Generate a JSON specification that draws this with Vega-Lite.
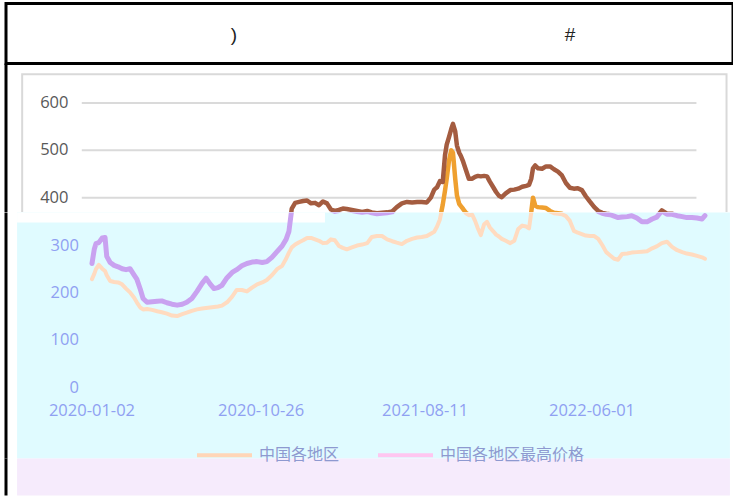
{
"$schema": "https://vega.github.io/schema/vega-lite/v6.json",
"background": "white",
"padding": {"left": 4, "top": 1.5, "right": 0, "bottom": 0},
"spacing": 0,
"bounds": "flush",
"config": {"view": {"stroke": null}, "font": "Open Sans"},
"resolve": {"scale": {"x": "independent", "y": "independent", "color": "independent"}, "legend": {"color": "independent"}},
"datasets": {"prices": [
{"日期":"2020-01-02","中国各地区":229,"中国各地区最高价格":262},
{"日期":"2020-01-06","中国各地区":240,"中国各地区最高价格":292},
{"日期":"2020-01-09","中国各地区":250,"中国各地区最高价格":304},
{"日期":"2020-01-14","中国各地区":259,"中国各地区最高价格":306},
{"日期":"2020-01-20","中国各地区":251,"中国各地区最高价格":316},
{"日期":"2020-01-25","中国各地区":246,"中国各地区最高价格":317},
{"日期":"2020-01-28","中国各地区":237,"中国各地区最高价格":277},
{"日期":"2020-02-03","中国各地区":225,"中国各地区最高价格":264},
{"日期":"2020-02-10","中国各地区":223,"中国各地区最高价格":258},
{"日期":"2020-02-17","中国各地区":222,"中国各地区最高价格":255},
{"日期":"2020-02-24","中国各地区":218,"中国各地区最高价格":251},
{"日期":"2020-03-02","中国各地区":209,"中国各地区最高价格":249},
{"日期":"2020-03-09","中国各地区":201,"中国各地区最高价格":251},
{"日期":"2020-03-16","中国各地区":190,"中国各地区最高价格":238},
{"日期":"2020-03-21","中国各地区":180,"中国各地区最高价格":229},
{"日期":"2020-03-27","中国各地区":169,"中国各地区最高价格":208},
{"日期":"2020-04-01","中国各地区":165,"中国各地区最高价格":188},
{"日期":"2020-04-08","中国各地区":166,"中国各地区最高价格":180},
{"日期":"2020-04-17","中国各地区":164,"中国各地区最高价格":181},
{"日期":"2020-04-26","中国各地区":161,"中国各地区最高价格":182},
{"日期":"2020-05-04","中国各地区":159,"中国各地区最高价格":183},
{"日期":"2020-05-13","中国各地区":156,"中国各地区最高价格":179},
{"日期":"2020-05-22","中国各地区":152,"中国各地区最高价格":176},
{"日期":"2020-05-31","中国各地区":151,"中国各地区最高价格":174},
{"日期":"2020-06-09","中国各地区":155,"中国各地区最高价格":176},
{"日期":"2020-06-17","中国各地区":158,"中国各地区最高价格":180},
{"日期":"2020-06-26","中国各地区":162,"中国各地区最高价格":188},
{"日期":"2020-07-05","中国各地区":165,"中国各地区最高价格":203},
{"日期":"2020-07-14","中国各地区":167,"中国各地区最高价格":220},
{"日期":"2020-07-21","中国各地区":168,"中国各地区最高价格":231},
{"日期":"2020-07-28","中国各地区":169,"中国各地区最高价格":219},
{"日期":"2020-08-04","中国各地区":170,"中国各地区最高价格":209},
{"日期":"2020-08-11","中国各地区":171,"中国各地区最高价格":211},
{"日期":"2020-08-18","中国各地区":173,"中国各地区最高价格":216},
{"日期":"2020-08-27","中国各地区":180,"中国各地区最高价格":232},
{"日期":"2020-09-05","中国各地区":192,"中国各地区最高价格":243},
{"日期":"2020-09-13","中国各地区":206,"中国各地区最高价格":249},
{"日期":"2020-09-22","中国各地区":206,"中国各地区最高价格":257},
{"日期":"2020-10-01","中国各地区":203,"中国各地区最高价格":262},
{"日期":"2020-10-10","中国各地区":211,"中国各地区最高价格":265},
{"日期":"2020-10-19","中国各地区":218,"中国各地区最高价格":266},
{"日期":"2020-10-28","中国各地区":222,"中国各地区最高价格":264},
{"日期":"2020-11-05","中国各地区":227,"中国各地区最高价格":266},
{"日期":"2020-11-14","中国各地区":237,"中国各地区最高价格":275},
{"日期":"2020-11-23","中国各地区":250,"中国各地区最高价格":287},
{"日期":"2020-12-02","中国各地区":257,"中国各地区最高价格":299},
{"日期":"2020-12-09","中国各地区":272,"中国各地区最高价格":313},
{"日期":"2020-12-14","中国各地区":285,"中国各地区最高价格":330},
{"日期":"2020-12-19","中国各地区":296,"中国各地区最高价格":377},
{"日期":"2020-12-25","中国各地区":302,"中国各地区最高价格":389},
{"日期":"2021-01-01","中国各地区":307,"中国各地区最高价格":391},
{"日期":"2021-01-08","中国各地区":311,"中国各地区最高价格":393},
{"日期":"2021-01-15","中国各地区":316,"中国各地区最高价格":394},
{"日期":"2021-01-22","中国各地区":316,"中国各地区最高价格":388},
{"日期":"2021-01-29","中国各地区":313,"中国各地区最高价格":389},
{"日期":"2021-02-05","中国各地区":310,"中国各地区最高价格":384},
{"日期":"2021-02-12","中国各地区":305,"中国各地区最高价格":392},
{"日期":"2021-02-19","中国各地区":306,"中国各地区最高价格":388},
{"日期":"2021-02-26","中国各地区":313,"中国各地区最高价格":375},
{"日期":"2021-03-05","中国各地区":311,"中国各地区最高价格":372},
{"日期":"2021-03-12","中国各地区":299,"中国各地区最高价格":374},
{"日期":"2021-03-19","中国各地区":295,"中国各地区最高价格":377},
{"日期":"2021-03-26","中国各地区":292,"中国各地区最高价格":376},
{"日期":"2021-04-04","中国各地区":296,"中国各地区最高价格":374},
{"日期":"2021-04-13","中国各地区":300,"中国各地区最高价格":372},
{"日期":"2021-04-22","中国各地区":302,"中国各地区最高价格":370},
{"日期":"2021-05-01","中国各地区":305,"中国各地区最高价格":372},
{"日期":"2021-05-09","中国各地区":318,"中国各地区最高价格":369},
{"日期":"2021-05-18","中国各地区":320,"中国各地区最高价格":367},
{"日期":"2021-05-27","中国各地区":320,"中国各地区最高价格":368},
{"日期":"2021-06-05","中国各地区":313,"中国各地区最高价格":369},
{"日期":"2021-06-14","中国各地区":309,"中国各地区最高价格":371},
{"日期":"2021-06-22","中国各地区":306,"中国各地区最高价格":380},
{"日期":"2021-07-01","中国各地区":303,"中国各地区最高价格":388},
{"日期":"2021-07-10","中国各地区":310,"中国各地区最高价格":391},
{"日期":"2021-07-19","中国各地区":314,"中国各地区最高价格":390},
{"日期":"2021-07-28","中国各地区":317,"中国各地区最高价格":391},
{"日期":"2021-08-05","中国各地区":318,"中国各地区最高价格":391},
{"日期":"2021-08-14","中国各地区":320,"中国各地区最高价格":390},
{"日期":"2021-08-21","中国各地区":325,"中国各地区最高价格":400},
{"日期":"2021-08-27","中国各地区":329,"中国各地区最高价格":417},
{"日期":"2021-09-01","中国各地区":340,"中国各地区最高价格":422},
{"日期":"2021-09-06","中国各地区":355,"中国各地区最高价格":435},
{"日期":"2021-09-11","中国各地区":385,"中国各地区最高价格":433},
{"日期":"2021-09-15","中国各地区":415,"中国各地区最高价格":490},
{"日期":"2021-09-18","中国各地区":440,"中国各地区最高价格":512},
{"日期":"2021-09-22","中国各地区":478,"中国各地区最高价格":528},
{"日期":"2021-09-26","中国各地区":500,"中国各地区最高价格":545},
{"日期":"2021-09-29","中国各地区":495,"中国各地区最高价格":556},
{"日期":"2021-10-03","中国各地区":440,"中国各地区最高价格":540},
{"日期":"2021-10-06","中国各地区":405,"中国各地区最高价格":510},
{"日期":"2021-10-10","中国各地区":387,"中国各地区最高价格":495},
{"日期":"2021-10-13","中国各地区":382,"中国各地区最高价格":488},
{"日期":"2021-10-17","中国各地区":376,"中国各地区最高价格":476},
{"日期":"2021-10-22","中国各地区":368,"中国各地区最高价格":458},
{"日期":"2021-10-27","中国各地区":364,"中国各地区最高价格":440},
{"日期":"2021-11-02","中国各地区":365,"中国各地区最高价格":440},
{"日期":"2021-11-07","中国各地区":352,"中国各地区最高价格":444},
{"日期":"2021-11-12","中国各地区":336,"中国各地区最高价格":446},
{"日期":"2021-11-17","中国各地区":322,"中国各地区最高价格":445},
{"日期":"2021-11-23","中国各地区":345,"中国各地区最高价格":446},
{"日期":"2021-11-28","中国各地区":350,"中国各地区最高价格":445},
{"日期":"2021-12-03","中国各地区":338,"中国各地区最高价格":434},
{"日期":"2021-12-09","中国各地区":330,"中国各地区最高价格":422},
{"日期":"2021-12-14","中国各地区":323,"中国各地区最高价格":412},
{"日期":"2021-12-19","中国各地区":319,"中国各地区最高价格":404},
{"日期":"2021-12-24","中国各地区":314,"中国各地区最高价格":401},
{"日期":"2021-12-31","中国各地区":310,"中国各地区最高价格":409},
{"日期":"2022-01-08","中国各地区":305,"中国各地区最高价格":416},
{"日期":"2022-01-15","中国各地区":310,"中国各地区最高价格":417},
{"日期":"2022-01-22","中国各地区":335,"中国各地区最高价格":419},
{"日期":"2022-01-29","中国各地区":342,"中国各地区最高价格":423},
{"日期":"2022-02-05","中国各地区":340,"中国各地区最高价格":425},
{"日期":"2022-02-10","中国各地区":336,"中国各地区最高价格":427},
{"日期":"2022-02-14","中国各地区":370,"中国各地区最高价格":440},
{"日期":"2022-02-17","中国各地区":400,"中国各地区最高价格":462},
{"日期":"2022-02-21","中国各地区":383,"中国各地区最高价格":468},
{"日期":"2022-02-26","中国各地区":380,"中国各地区最高价格":462},
{"日期":"2022-03-05","中国各地区":379,"中国各地区最高价格":461},
{"日期":"2022-03-12","中国各地区":378,"中国各地区最高价格":466},
{"日期":"2022-03-19","中国各地区":372,"中国各地区最高价格":466},
{"日期":"2022-03-26","中国各地区":368,"中国各地区最高价格":460},
{"日期":"2022-04-02","中国各地区":367,"中国各地区最高价格":455},
{"日期":"2022-04-09","中国各地区":366,"中国各地区最高价格":447},
{"日期":"2022-04-16","中国各地区":362,"中国各地区最高价格":431},
{"日期":"2022-04-23","中国各地区":352,"中国各地区最高价格":421},
{"日期":"2022-04-30","中国各地区":331,"中国各地区最高价格":419},
{"日期":"2022-05-07","中国各地区":327,"中国各地区最高价格":420},
{"日期":"2022-05-14","中国各地区":324,"中国各地区最高价格":416},
{"日期":"2022-05-21","中国各地区":321,"中国各地区最高价格":403},
{"日期":"2022-05-28","中国各地区":320,"中国各地区最高价格":392},
{"日期":"2022-06-05","中国各地区":320,"中国各地区最高价格":380},
{"日期":"2022-06-12","中国各地区":314,"中国各地区最高价格":372},
{"日期":"2022-06-19","中国各地区":301,"中国各地区最高价格":368},
{"日期":"2022-06-26","中国各地区":286,"中国各地区最高价格":366},
{"日期":"2022-07-03","中国各地区":279,"中国各地区最高价格":365},
{"日期":"2022-07-10","中国各地区":272,"中国各地区最高价格":362},
{"日期":"2022-07-17","中国各地区":270,"中国各地区最高价格":359},
{"日期":"2022-07-24","中国各地区":282,"中国各地区最高价格":360},
{"日期":"2022-08-02","中国各地区":283,"中国各地区最高价格":361},
{"日期":"2022-08-10","中国各地区":285,"中国各地区最高价格":363},
{"日期":"2022-08-19","中国各地区":286,"中国各地区最高价格":358},
{"日期":"2022-08-28","中国各地区":287,"中国各地区最高价格":350},
{"日期":"2022-09-06","中国各地区":288,"中国各地区最高价格":350},
{"日期":"2022-09-15","中国各地区":294,"中国各地区最高价格":356},
{"日期":"2022-09-23","中国各地区":298,"中国各地区最高价格":360},
{"日期":"2022-10-02","中国各地区":305,"中国各地区最高价格":373},
{"日期":"2022-10-11","中国各地区":308,"中国各地区最高价格":366},
{"日期":"2022-10-20","中国各地区":297,"中国各地区最高价格":366},
{"日期":"2022-10-29","中国各地区":290,"中国各地区最高价格":363},
{"日期":"2022-11-07","中国各地区":286,"中国各地区最高价格":361},
{"日期":"2022-11-15","中国各地区":283,"中国各地区最高价格":359},
{"日期":"2022-11-24","中国各地区":281,"中国各地区最高价格":359},
{"日期":"2022-12-03","中国各地区":278,"中国各地区最高价格":358},
{"日期":"2022-12-12","中国各地区":275,"中国各地区最高价格":356},
{"日期":"2022-12-17","中国各地区":272,"中国各地区最高价格":363}
]},
"vconcat": [
{
 "width": 727, "height": 60,
 "view": {"stroke": "black", "strokeWidth": 3},
 "data": {"values": [{"列": "a", "标题": ")"}, {"列": "b", "标题": "#"}]},
 "mark": {"type": "text", "fontSize": 19, "font": "Liberation Sans", "color": "#222222", "dy": 1},
 "encoding": {
  "x": {"field": "列", "type": "nominal", "sort": null, "scale": {"type": "point", "padding": 0.5818, "align": 0.5831}, "axis": null},
  "text": {"field": "标题"}
 }
},
{
 "width": 727, "height": 148.5,
 "layer": [
  {
   "data": {"values": [{"刻度": 400}, {"刻度": 500}, {"刻度": 600}]},
   "mark": {"type": "rule", "color": "#dadada", "strokeWidth": 2},
   "encoding": {
    "y": {"field": "刻度", "type": "quantitative", "scale": {"domain": [369.72, 683.45], "nice": false, "zero": false}, "axis": null},
    "x": {"datum": {"year": 2019, "month": 12, "date": 15, "utc": true}, "type": "temporal", "scale": {"type": "utc", "domain": [{"year": 2019, "month": 8, "date": 3, "hours": 12, "utc": true}, {"year": 2023, "month": 2, "date": 4, "hours": 10, "utc": true}]}, "axis": null},
    "x2": {"datum": {"year": 2022, "month": 12, "date": 2, "utc": true}}
   }
  },
  {
   "data": {"values": [{"刻度": 400}, {"刻度": 500}, {"刻度": 600}]},
   "mark": {"type": "text", "align": "right", "baseline": "middle", "font": "Open Sans", "fontSize": 16.5, "color": "#595959"},
   "encoding": {
    "y": {"field": "刻度", "type": "quantitative", "scale": {"domain": [369.72, 683.45], "nice": false, "zero": false}, "axis": null},
    "x": {"datum": {"year": 2019, "month": 11, "date": 21, "hours": 14, "utc": true}, "type": "temporal", "scale": {"type": "utc", "domain": [{"year": 2019, "month": 8, "date": 3, "hours": 12, "utc": true}, {"year": 2023, "month": 2, "date": 4, "hours": 10, "utc": true}]}, "axis": null},
    "text": {"field": "刻度", "type": "quantitative"}
   }
  },
  {
   "data": {"values": [{}]},
   "mark": {"type": "rect", "filled": false, "stroke": "#d9d9d9", "strokeWidth": 2, "clip": true},
   "encoding": {
    "x": {"datum": {"year": 2019, "month": 9, "date": 1, "utc": true}, "type": "temporal", "scale": {"type": "utc", "domain": [{"year": 2019, "month": 8, "date": 3, "hours": 12, "utc": true}, {"year": 2023, "month": 2, "date": 4, "hours": 10, "utc": true}]}, "axis": null},
    "x2": {"datum": {"year": 2023, "month": 1, "date": 24, "utc": true}},
    "y": {"datum": 660.6, "type": "quantitative", "scale": {"domain": [369.72, 683.45], "nice": false, "zero": false}, "axis": null},
    "y2": {"datum": 300}
   }
  },
  {
   "data": {"name": "prices"},
   "transform": [{"fold": ["中国各地区", "中国各地区最高价格"], "as": ["series", "value"]}],
   "mark": {"type": "line", "clip": true, "strokeWidth": 4.5, "strokeJoin": "round", "strokeCap": "round"},
   "encoding": {
    "x": {"field": "日期", "type": "temporal", "scale": {"type": "utc", "domain": [{"year": 2019, "month": 8, "date": 3, "hours": 12, "utc": true}, {"year": 2023, "month": 2, "date": 4, "hours": 10, "utc": true}]}, "axis": null},
    "y": {"field": "value", "type": "quantitative", "scale": {"domain": [369.72, 683.45], "nice": false, "zero": false}, "axis": null},
    "color": {"field": "series", "type": "nominal", "scale": {"domain": ["中国各地区", "中国各地区最高价格"], "range": ["#efa030", "#a45c40"]}, "legend": null}
   }
  },
  {
   "data": {"values": [{}]},
   "mark": {"type": "rule", "color": "black", "strokeWidth": 3},
   "encoding": {
    "x": {"datum": {"year": 2019, "month": 8, "date": 3, "hours": 12, "utc": true}, "type": "temporal", "scale": {"type": "utc", "domain": [{"year": 2019, "month": 8, "date": 3, "hours": 12, "utc": true}, {"year": 2023, "month": 2, "date": 4, "hours": 10, "utc": true}]}, "axis": null}
   }
  }
 ]
},
{
 "width": 727, "height": 246,
 "layer": [
  {
   "data": {"values": [{}]},
   "mark": {"type": "rect", "color": "#e0fbff"},
   "encoding": {
    "x": {"datum": {"year": 2019, "month": 8, "date": 23, "utc": true}, "type": "temporal", "scale": {"type": "utc", "domain": [{"year": 2019, "month": 8, "date": 3, "hours": 12, "utc": true}, {"year": 2023, "month": 2, "date": 4, "hours": 10, "utc": true}]}, "axis": null},
    "x2": {"datum": {"year": 2023, "month": 1, "date": 30, "utc": true}}
   }
  },
  {
   "data": {"values": [{}]},
   "mark": {"type": "rect", "color": "white"},
   "encoding": {
    "x": {"datum": {"year": 2019, "month": 8, "date": 23, "utc": true}, "type": "temporal", "scale": {"type": "utc", "domain": [{"year": 2019, "month": 8, "date": 3, "hours": 12, "utc": true}, {"year": 2023, "month": 2, "date": 4, "hours": 10, "utc": true}]}, "axis": null},
    "x2": {"datum": {"year": 2021, "month": 2, "date": 15, "hours": 12, "utc": true}},
    "y": {"datum": 369.72, "type": "quantitative", "scale": {"domain": [-150, 369.72], "nice": false, "zero": false}, "axis": null},
    "y2": {"datum": 348.6}
   }
  },
  {
   "data": {"name": "prices"},
   "transform": [{"fold": ["中国各地区", "中国各地区最高价格"], "as": ["series", "value"]}],
   "mark": {"type": "line", "clip": true, "strokeJoin": "round", "strokeCap": "round"},
   "encoding": {
    "x": {"field": "日期", "type": "temporal", "scale": {"type": "utc", "domain": [{"year": 2019, "month": 8, "date": 3, "hours": 12, "utc": true}, {"year": 2023, "month": 2, "date": 4, "hours": 10, "utc": true}]}, "axis": null},
    "y": {"field": "value", "type": "quantitative", "scale": {"domain": [-150, 369.72], "nice": false, "zero": false}, "axis": null},
    "color": {"field": "series", "type": "nominal", "scale": {"domain": ["中国各地区", "中国各地区最高价格"], "range": ["#ffdbc0", "#c9a2f0"]}, "legend": null},
    "strokeWidth": {"field": "series", "type": "nominal", "scale": {"domain": ["中国各地区", "中国各地区最高价格"], "range": [4, 5]}, "legend": null}
   }
  },
  {
   "data": {"values": [{"刻度": 0}, {"刻度": 100}, {"刻度": 200}, {"刻度": 300}]},
   "mark": {"type": "text", "align": "right", "baseline": "middle", "font": "Open Sans", "fontSize": 16.5, "color": "#8fa0f2"},
   "encoding": {
    "y": {"field": "刻度", "type": "quantitative", "scale": {"domain": [-150, 369.72], "nice": false, "zero": false}, "axis": null},
    "x": {"datum": {"year": 2019, "month": 12, "date": 10, "utc": true}, "type": "temporal", "scale": {"type": "utc", "domain": [{"year": 2019, "month": 8, "date": 3, "hours": 12, "utc": true}, {"year": 2023, "month": 2, "date": 4, "hours": 10, "utc": true}]}, "axis": null},
    "text": {"field": "刻度", "type": "quantitative"}
   }
  },
  {
   "data": {"values": [{"日期": "2020-01-02", "标签": "2020-01-02"}, {"日期": "2020-10-26", "标签": "2020-10-26"}, {"日期": "2021-08-11", "标签": "2021-08-11"}, {"日期": "2022-06-01", "标签": "2022-06-01"}]},
   "mark": {"type": "text", "align": "center", "baseline": "middle", "font": "Open Sans", "fontSize": 16.5, "color": "#8fa0f2"},
   "encoding": {
    "x": {"field": "日期", "type": "temporal", "scale": {"type": "utc", "domain": [{"year": 2019, "month": 8, "date": 3, "hours": 12, "utc": true}, {"year": 2023, "month": 2, "date": 4, "hours": 10, "utc": true}]}, "axis": null},
    "y": {"datum": -50.7, "type": "quantitative", "scale": {"domain": [-150, 369.72], "nice": false, "zero": false}, "axis": null},
    "text": {"field": "标签", "type": "nominal"}
   }
  },
  {
   "data": {"values": [{}]},
   "mark": {"type": "rule", "color": "black", "strokeWidth": 3},
   "encoding": {
    "x": {"datum": {"year": 2019, "month": 8, "date": 3, "hours": 12, "utc": true}, "type": "temporal", "scale": {"type": "utc", "domain": [{"year": 2019, "month": 8, "date": 3, "hours": 12, "utc": true}, {"year": 2023, "month": 2, "date": 4, "hours": 10, "utc": true}]}, "axis": null}
   }
  }
 ]
},
{
 "width": 727, "height": 37,
 "layer": [
  {
   "data": {"values": [{}]},
   "mark": {"type": "rect", "color": "#f6ebfc"},
   "encoding": {
    "x": {"datum": {"year": 2019, "month": 8, "date": 23, "utc": true}, "type": "temporal", "scale": {"type": "utc", "domain": [{"year": 2019, "month": 8, "date": 3, "hours": 12, "utc": true}, {"year": 2023, "month": 2, "date": 4, "hours": 10, "utc": true}]}, "axis": null},
    "x2": {"datum": {"year": 2023, "month": 1, "date": 30, "utc": true}}
   }
  },
  {
   "data": {"values": [{}]},
   "mark": {"type": "rule", "color": "black", "strokeWidth": 3},
   "encoding": {
    "x": {"datum": {"year": 2019, "month": 8, "date": 3, "hours": 12, "utc": true}, "type": "temporal", "scale": {"type": "utc", "domain": [{"year": 2019, "month": 8, "date": 3, "hours": 12, "utc": true}, {"year": 2023, "month": 2, "date": 4, "hours": 10, "utc": true}]}, "axis": null}
   }
  },
  {
   "data": {"name": "prices"},
   "transform": [{"fold": ["中国各地区", "中国各地区最高价格"], "as": ["series", "value"]}, {"filter": "false"}],
   "mark": {"type": "line", "strokeWidth": 4},
   "encoding": {
    "x": {"field": "日期", "type": "temporal", "scale": {"type": "utc", "domain": [{"year": 2019, "month": 8, "date": 3, "hours": 12, "utc": true}, {"year": 2023, "month": 2, "date": 4, "hours": 10, "utc": true}]}, "axis": null},
    "y": {"field": "value", "type": "quantitative", "scale": {"domain": [0, 1]}, "axis": null},
    "color": {"field": "series", "type": "nominal", "scale": {"domain": ["中国各地区", "中国各地区最高价格"], "range": ["#ffd6b8", "#ffc6f0"]},
              "legend": {"orient": "none", "legendX": 189, "legendY": -33, "direction": "horizontal", "title": null, "symbolType": "stroke", "symbolSize": 3025, "symbolStrokeWidth": 4, "labelFont": "Noto Sans CJK SC", "labelFontSize": 16, "labelColor": "#8e99d0", "labelOffset": 5, "columnPadding": 30, "labelLimit": 300}}
   }
  }
 ]
}
]
}
